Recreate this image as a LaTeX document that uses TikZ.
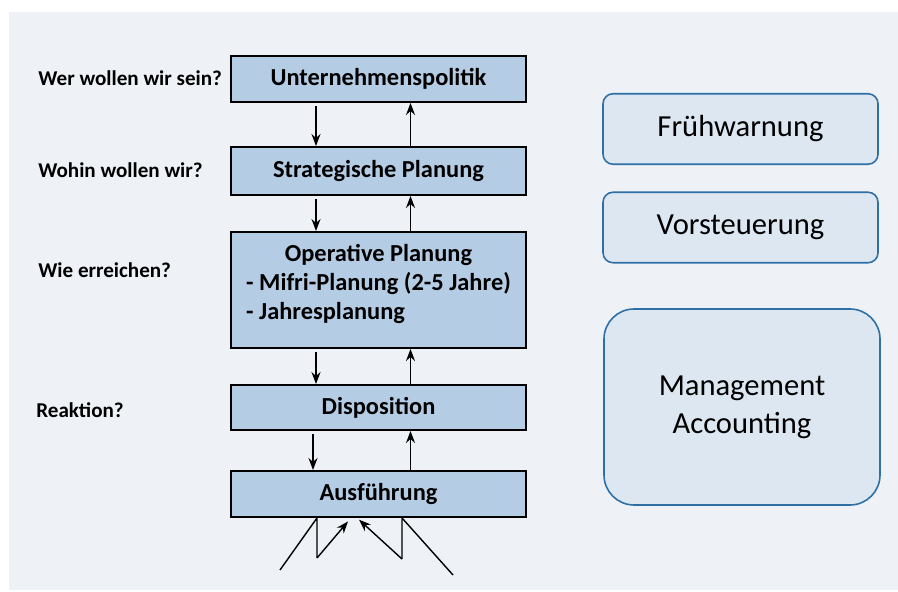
\documentclass[tikz,border=0pt]{standalone}
\usepackage{fontspec}
\setmainfont{Carlito}
\usepackage{tikz}
\usetikzlibrary{arrows.meta,positioning}
\definecolor{cpanel}{HTML}{EEF2F6}
\definecolor{cbox}{HTML}{B4CCE4}
\definecolor{cside}{HTML}{DDE7F1}
\definecolor{cedge}{HTML}{2E6FA6}
\tikzset{
  >={Stealth[length=2.4mm,width=1.8mm]},
  level/.style={draw=black,fill=cbox,line width=1.1pt,minimum width=5.9cm,
                font=\fontsize{13.9}{16.4}\selectfont\bfseries,inner sep=2pt},
  side/.style={draw=cedge,fill=cside,line width=0.9pt,rounded corners=0.2cm,
               minimum width=5.5cm,minimum height=1.41cm,
               font=\fontsize{17.4}{21.5}\selectfont,align=center},
  qlbl/.style={anchor=west,inner sep=0pt,font=\fontsize{12}{14}\selectfont\bfseries},
  flow/.style={->,line width=0.8pt},
}
\begin{document}
\begin{tikzpicture}

\useasboundingbox (0,0) rectangle (17.96,11.84);
\fill[cpanel] (0.18,0.04) rectangle (17.96,11.60);

% ================= LEVELS =================
\node[level,minimum height=0.92cm] (pol) at (7.57,10.26) {Unternehmenspolitik};
\node[level,minimum height=0.96cm] (str) at (7.57,8.42) {Strategische Planung};
\node[level,minimum height=2.32cm] (op) at (7.57,6.04)
  {\begin{tabular}{@{}l@{}}\multicolumn{1}{c}{Operative Planung}\\
   - Mifri-Planung (2-5 Jahre)\\ - Jahresplanung\\[0.2cm]\end{tabular}};
\node[level,minimum height=0.90cm] (dis) at (7.57,3.69) {Disposition};
\node[level,minimum height=0.92cm] (aus) at (7.57,1.96) {Ausführung};

% questions
\node[qlbl] (q1) at (0.76,10.28) {Wer wollen wir sein?};
\node[qlbl] (q2) at (0.76,8.44) {Wohin wollen wir?};
\node[qlbl] (q3) at (0.76,6.44) {Wie erreichen?};
\node[qlbl] (q4) at (0.72,3.64) {Reaktion?};

% down / up
\foreach \a/\b in {pol/str,str/op,op/dis}{
  \draw[flow] ([xshift=-1.25cm,yshift=-2pt]\a.south) -- ([xshift=-1.25cm]\b.north);
  \draw[flow] ([xshift=0.64cm]\b.north) -- ([xshift=0.64cm]\a.south);
}
\draw[flow] ([xshift=-1.31cm,yshift=-2pt]dis.south) -- ([xshift=-1.31cm]aus.north);
\draw[flow] ([xshift=0.64cm]aus.north) -- ([xshift=0.64cm]dis.south);

% ================= BOTTOM =================
\coordinate (l0) at (5.6,0.44);
\coordinate (l1) at (6.34,0.68);
\coordinate (r0) at (9.06,0.34);
\coordinate (r1) at (8.04,0.66);
\draw[line width=0.8pt] (l0) -- ([xshift=-1.23cm]aus.south) -- (l1);
\draw[flow] (l1) -- ([xshift=-0.61cm,yshift=-2pt]aus.south);
\draw[line width=0.8pt] (r0) -- ([xshift=0.47cm]aus.south) -- (r1);
\draw[flow] (r1) -- ([xshift=-0.39cm,yshift=-1pt]aus.south);

% ================= RIGHT =================
\node[side] (fw) at (14.81,9.26) {Frühwarnung};
\node[side] (vs) at (14.81,7.29) {Vorsteuerung};
\node[side,rounded corners=0.6cm,minimum width=5.52cm,minimum height=3.92cm] (ma)
  at (14.84,3.70) {Management\\Accounting};

\end{tikzpicture}
\end{document}
